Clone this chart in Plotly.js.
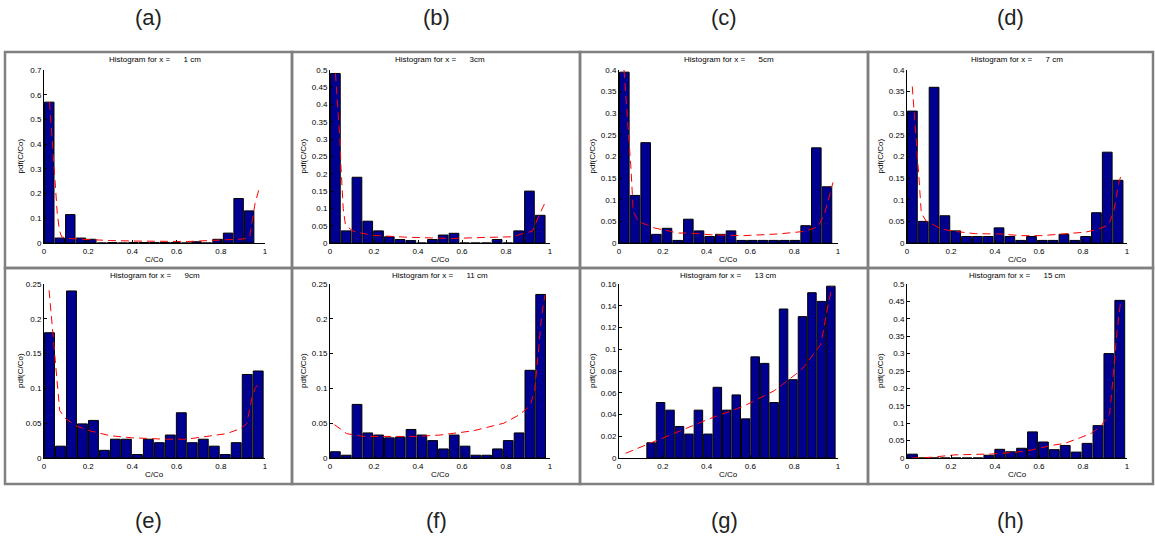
<!DOCTYPE html>
<html>
<head>
<meta charset="utf-8">
<script src="https://cdn.plot.ly/plotly-3.0.1.min.js"></script>
<style>html,body{margin:0;padding:0;background:#fff;}#chart{width:1155px;height:537px;}</style>
</head>
<body>
<div id="chart"></div>
<script>
// ---- data ----
const panelLabels = ["(a)", "(b)", "(c)", "(d)", "(e)", "(f)", "(g)", "(h)"];
const distances = ["1 cm", "3cm", "5cm", "7 cm", "9cm", "11 cm", "13 cm", "15 cm"];
const xTickVals = [0, 0.2, 0.4, 0.6, 0.8, 1];
const xTickText = ["0", "0.2", "0.4", "0.6", "0.8", "1"];
const yMax = [0.7, 0.5, 0.4, 0.4, 0.25, 0.25, 0.16, 0.5];
const yStep = [0.1, 0.05, 0.05, 0.05, 0.05, 0.05, 0.02, 0.05];

// histogram bins: first bin centre and bin width (from MATLAB hist, 20 bins)
const binFirstCentre = [0.0238, 0.0245, 0.0244, 0.0246, 0.0249, 0.0246, 0.1466, 0.0248];
const binWidth = [0.0476, 0.049, 0.0487, 0.0492, 0.0497, 0.0491, 0.0432, 0.0496];

const hA = [0.57, 0.02, 0.115, 0.02, 0.015, 0, 0.002, 0, 0.002, 0.002, 0.002, 0.002, 0.002, 0, 0.005, 0, 0.015, 0.04, 0.18, 0.13];
const hB = [0.49, 0.035, 0.19, 0.063, 0.035, 0.018, 0.01, 0.007, 0, 0.01, 0.023, 0.028, 0, 0, 0, 0.01, 0, 0.035, 0.15, 0.08];
const hC = [0.395, 0.11, 0.232, 0.02, 0.034, 0.006, 0.055, 0.028, 0.015, 0.02, 0.028, 0.006, 0.006, 0.006, 0.006, 0.006, 0.006, 0.04, 0.22, 0.13];
const hD = [0.305, 0.05, 0.36, 0.063, 0.028, 0.015, 0.015, 0.015, 0.035, 0.015, 0.006, 0.015, 0.006, 0.006, 0.02, 0.006, 0.015, 0.07, 0.21, 0.145];
const hE = [0.18, 0.017, 0.24, 0.049, 0.054, 0.011, 0.027, 0.027, 0.005, 0.027, 0.022, 0.033, 0.065, 0.022, 0.027, 0.017, 0.005, 0.022, 0.12, 0.125];
const hF = [0.009, 0.004, 0.077, 0.036, 0.033, 0.029, 0.03, 0.041, 0.033, 0.025, 0.013, 0.033, 0.017, 0.004, 0.004, 0.013, 0.025, 0.036, 0.126, 0.235];
const hG = [0.014, 0.051, 0.044, 0.029, 0.022, 0.044, 0.022, 0.065, 0.044, 0.058, 0.036, 0.093, 0.087, 0.051, 0.137, 0.072, 0.13, 0.152, 0.144, 0.158];
const hH = [0.011, 0, 0, 0, 0, 0, 0, 0.008, 0.025, 0.018, 0.028, 0.075, 0.046, 0.024, 0.036, 0.017, 0.042, 0.093, 0.3, 0.453];
const histValues = [hA, hB, hC, hD, hE, hF, hG, hH];

// fitted pdf curves (red dashed)
const fxA = [0.025, 0.03, 0.04, 0.05, 0.06, 0.07, 0.08, 0.1, 0.15, 0.2, 0.3, 0.4, 0.5, 0.65, 0.8, 0.9, 0.93, 0.945, 0.955, 0.975];
const fyA = [0.57, 0.5, 0.35, 0.25, 0.12, 0.05, 0.025, 0.02, 0.016, 0.013, 0.01, 0.008, 0.006, 0.006, 0.012, 0.016, 0.022, 0.1, 0.16, 0.225];
const fxB = [0.025, 0.035, 0.045, 0.05, 0.06, 0.07, 0.1, 0.12, 0.2, 0.34, 0.45, 0.55, 0.7, 0.83, 0.87, 0.92, 0.95, 0.975];
const fyB = [0.49, 0.4, 0.3, 0.22, 0.1, 0.053, 0.036, 0.031, 0.022, 0.017, 0.014, 0.013, 0.016, 0.018, 0.026, 0.034, 0.08, 0.113];
const fxC = [0.023, 0.035, 0.04, 0.055, 0.065, 0.088, 0.16, 0.27, 0.32, 0.42, 0.57, 0.73, 0.85, 0.91, 0.94, 0.955, 0.977];
const fyC = [0.4, 0.315, 0.26, 0.17, 0.073, 0.05, 0.035, 0.023, 0.023, 0.019, 0.017, 0.021, 0.027, 0.038, 0.07, 0.1, 0.14];
const fxD = [0.024, 0.035, 0.043, 0.055, 0.065, 0.088, 0.11, 0.157, 0.217, 0.31, 0.415, 0.52, 0.61, 0.72, 0.81, 0.87, 0.916, 0.94, 0.962, 0.977];
const fyD = [0.362, 0.292, 0.238, 0.146, 0.069, 0.05, 0.045, 0.032, 0.027, 0.0215, 0.021, 0.017, 0.017, 0.0215, 0.025, 0.032, 0.042, 0.073, 0.138, 0.163];
const fxE = [0.023, 0.033, 0.048, 0.063, 0.071, 0.1, 0.147, 0.207, 0.3, 0.4, 0.55, 0.645, 0.735, 0.826, 0.887, 0.917, 0.94, 0.955, 0.975];
const fyE = [0.241, 0.205, 0.148, 0.1, 0.068, 0.056, 0.046, 0.039, 0.032, 0.029, 0.027, 0.027, 0.031, 0.035, 0.042, 0.049, 0.085, 0.1, 0.109];
const fxF = [0.02, 0.076, 0.15, 0.27, 0.39, 0.5, 0.65, 0.79, 0.86, 0.91, 0.93, 0.947, 0.962, 0.977];
const fyF = [0.048, 0.035, 0.031, 0.031, 0.031, 0.033, 0.039, 0.05, 0.062, 0.075, 0.097, 0.152, 0.205, 0.234];
const fxG = [0.03, 0.166, 0.317, 0.4, 0.437, 0.535, 0.573, 0.671, 0.71, 0.807, 0.845, 0.92, 0.928, 0.953, 0.973];
const fyG = [0.0043, 0.0154, 0.0277, 0.035, 0.038, 0.045, 0.048, 0.058, 0.062, 0.077, 0.084, 0.104, 0.111, 0.139, 0.158];
const fxH = [0.02, 0.11, 0.217, 0.31, 0.383, 0.49, 0.565, 0.656, 0.717, 0.79, 0.838, 0.883, 0.921, 0.932, 0.944, 0.956, 0.971];
const fyH = [0, 0.002, 0.009, 0.0096, 0.0115, 0.016, 0.023, 0.036, 0.042, 0.059, 0.071, 0.093, 0.127, 0.199, 0.286, 0.372, 0.451];
const fitX = [fxA, fxB, fxC, fxD, fxE, fxF, fxG, fxH];
const fitY = [fyA, fyB, fyC, fyD, fyE, fyF, fyG, fyH];

// ---- layout geometry (pixels) ----
const W = 1155, H = 537;
const axLeft = [44, 330, 619, 907];
const axRight = [265, 550, 838, 1127];
const axTop = [70, 284];
const axBottom = [243, 458];
const titleY = [60, 275];
const xlabY = [260, 474];
const ylabX = [20, 303, 592, 880];
const frameX = [5, 292, 580, 868, 1153];
const frameY = [52, 268, 484];

const font = "Arial, 'Liberation Sans', sans-serif";
const traces = [];
const layout = {
  width: W, height: H,
  margin: {l: 0, r: 0, t: 0, b: 0},
  paper_bgcolor: "#fff", plot_bgcolor: "#fff",
  showlegend: false, bargap: 0.1,
  font: {family: font, size: 8, color: "#000"},
  annotations: [], shapes: []
};

function fmt(v) { return (Math.round(v * 1000) / 1000).toString(); }

for (let i = 0; i < 8; i++) {
  const r = Math.floor(i / 4), c = i % 4;
  const n = i + 1;
  const xa = "x" + (n === 1 ? "" : n), ya = "y" + (n === 1 ? "" : n);
  const xk = "xaxis" + (n === 1 ? "" : n), yk = "yaxis" + (n === 1 ? "" : n);
  traces.push({
    type: "bar", x0: binFirstCentre[i], dx: binWidth[i], y: histValues[i],
    xaxis: xa, yaxis: ya,
    marker: {color: "#000090", line: {color: "#000", width: 1}},
    hoverinfo: "skip"
  });
  traces.push({
    type: "scatter", mode: "lines", x: fitX[i], y: fitY[i],
    xaxis: xa, yaxis: ya,
    line: {color: "#ff0000", width: 1, dash: "8px,5px"},
    hoverinfo: "skip"
  });
  const yt = [], ytt = [];
  for (let k = 0; k * yStep[i] <= yMax[i] + 1e-9; k++) { yt.push(k * yStep[i]); ytt.push(fmt(k * yStep[i])); }
  layout[xk] = {
    domain: [axLeft[c] / W, axRight[c] / W], anchor: ya,
    range: [0, 1], tickvals: xTickVals, ticktext: xTickText,
    showgrid: false, zeroline: false, showline: true, linecolor: "#000", linewidth: 1,
    ticks: "inside", ticklen: 3, tickcolor: "#000", tickfont: {size: 8, family: font}
  };
  layout[yk] = {
    domain: [1 - axBottom[r] / H, 1 - axTop[r] / H], anchor: xa,
    range: [0, yMax[i]], tickvals: yt, ticktext: ytt,
    showgrid: false, zeroline: false, showline: true, linecolor: "#000", linewidth: 1,
    ticks: "inside", ticklen: 3, tickcolor: "#000", tickfont: {size: 8, family: font}
  };
  const cx = (axLeft[c] + axRight[c]) / 2;
  layout.annotations.push({
    text: "Histogram for x =      " + distances[i], xref: "paper", yref: "paper",
    x: cx / W, y: 1 - titleY[r] / H, xanchor: "center", yanchor: "middle",
    showarrow: false, font: {size: 8, family: font}
  });
  layout.annotations.push({
    text: "C/Co", xref: "paper", yref: "paper",
    x: cx / W, y: 1 - xlabY[r] / H, xanchor: "center", yanchor: "middle",
    showarrow: false, font: {size: 8, family: font}
  });
  layout.annotations.push({
    text: "pdf(C/Co)", xref: "paper", yref: "paper", textangle: -90,
    x: ylabX[c] / W, y: 1 - ((axTop[r] + axBottom[r]) / 2) / H, xanchor: "center", yanchor: "middle",
    showarrow: false, font: {size: 8, family: font}
  });
  const labY = r === 0 ? 18 : 520;
  layout.annotations.push({
    text: panelLabels[i], xref: "paper", yref: "paper",
    x: ((frameX[c] + frameX[c + 1]) / 2) / W, y: 1 - labY / H, xanchor: "center", yanchor: "middle",
    showarrow: false, font: {size: 22, family: font, color: "#222"}
  });
  layout.shapes.push({
    type: "rect", xref: "paper", yref: "paper",
    x0: frameX[c] / W, x1: frameX[c + 1] / W, y0: 1 - frameY[r + 1] / H, y1: 1 - frameY[r] / H,
    line: {color: "#808080", width: 2.5}, layer: "below"
  });
}

Plotly.newPlot("chart", traces, layout, {staticPlot: true, displayModeBar: false});
</script>
</body>
</html>
